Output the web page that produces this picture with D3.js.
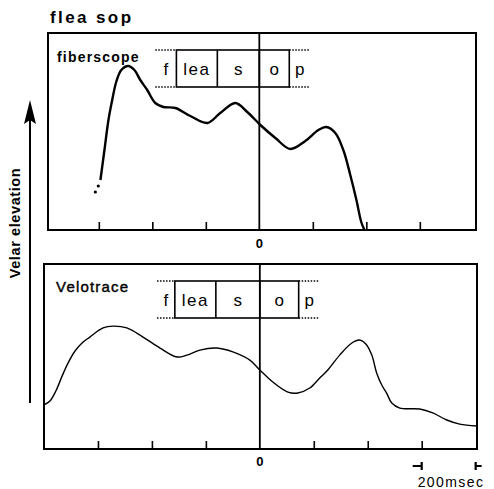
<!DOCTYPE html>
<html>
<head>
<meta charset="utf-8">
<script src="https://cdn.jsdelivr.net/npm/d3@7"></script>
<style>
  body { margin: 0; background: #fff; }
  svg { display: block; font-family: "Liberation Sans", Arial, sans-serif; }
</style>
</head>
<body>
<svg id="chart" width="494" height="489"></svg>
<script>
// time in msec relative to the s/o boundary, elevation in arbitrary units (0-100)
const fiberTime = [-594, -579, -564, -550, -535, -516, -490, -467, -445, -419, -389, -359, -314, -258, -194, -146, -90, -45, 4, 60, 116, 172, 221, 250, 284, 314, 340, 363, 381, 393];
const fiberValue = [25, 40, 55, 65, 74, 80, 82, 80, 75, 70, 63.5, 61.5, 61, 57, 53.5, 58.5, 63.5, 59, 52.5, 46, 40.5, 44.5, 50, 51.5, 48.5, 40, 27.5, 15, 4, 0];
const fiberDotTime = [-613, -602];
const fiberDotValue = [19, 22];

const veloTime = [-800, -778, -756, -733, -711, -685, -659, -630, -581, -544, -493, -433, -370, -307, -270, -222, -159, -100, -37, 0, 48, 104, 141, 185, 222, 252, 296, 341, 370, 393, 415, 433, 452, 470, 489, 519, 593, 641, 693, 741, 804];
const veloValue = [23.7, 25.8, 31.2, 39.2, 46.2, 52.7, 57, 60.2, 65.1, 66.1, 65.1, 60.2, 54.3, 49.5, 50.5, 53.2, 54.3, 52.2, 47.8, 42.5, 36, 30.6, 30.1, 32.8, 38.2, 42.5, 50.5, 57, 58.6, 56.5, 50.5, 40.9, 34.4, 30.1, 24.7, 22, 21.5, 19.4, 15.6, 13.4, 12.4];

// segment boundaries (msec): dotted start, box edges, dotted end
const phones = ["f", "lea", "s", "o", "p"];
const fiberBounds = [-389, -310, -157, 0, 112, 190];
const veloBounds = [-381, -315, -163, 0, 144, 222];

const tickTimes = [-600, -400, -200, 0, 200, 400, 600];
const scaleBarTimes = [600, 800];

const svg = d3.select("#chart");

const panels = [
  { name: "fiberscope", time: fiberTime, value: fiberValue, bounds: fiberBounds,
    xDomain: [-790, 810], xRange: [48, 476], yDomain: [0, 98.5], yRange: [230, 33],
    stroke: 2.4, labelY: 62, zeroY: 248 },
  { name: "Velotrace", time: veloTime, value: veloValue, bounds: veloBounds,
    xDomain: [-800, 805], xRange: [44, 477], yDomain: [0, 99.5], yRange: [449, 264],
    stroke: 1.4, labelY: 292, zeroY: 466 }
];

panels.forEach((p, pi) => {
  const x = d3.scaleLinear().domain(p.xDomain).range(p.xRange);
  const y = d3.scaleLinear().domain(p.yDomain).range(p.yRange);
  const g = svg.append("g");
  const top = p.yRange[1], bottom = p.yRange[0];

  // frame
  g.append("rect")
    .attr("x", p.xRange[0]).attr("y", top)
    .attr("width", p.xRange[1] - p.xRange[0]).attr("height", bottom - top)
    .attr("fill", "none").attr("stroke", "#000").attr("stroke-width", 2);

  // ticks pointing up, only 0 labelled
  const axis = d3.axisBottom(x)
    .tickValues(tickTimes.filter((t) => t !== 0))
    .tickSizeInner(-8).tickSizeOuter(0)
    .tickFormat("");
  g.append("g")
    .attr("transform", `translate(0,${bottom})`)
    .call(axis)
    .call((a) => a.select(".domain").remove())
    .call((a) => a.selectAll("line").attr("stroke-width", 1.6));

  // zero line across the panel
  g.append("line")
    .attr("x1", x(0)).attr("x2", x(0))
    .attr("y1", top).attr("y2", bottom)
    .attr("stroke", "#000").attr("stroke-width", 1.8);
  g.append("text")
    .attr("x", x(0)).attr("y", p.zeroY)
    .attr("text-anchor", "middle")
    .attr("font-size", 13).attr("font-weight", "bold")
    .text("0");

  // panel name
  g.append("text")
    .attr("x", p.xRange[0] + 9 + pi * 3).attr("y", p.labelY)
    .attr("font-size", pi === 0 ? 14 : 15).attr("letter-spacing", 1.2)
    .attr("font-weight", pi === 0 ? "bold" : "normal")
    .attr("stroke", "#000").attr("stroke-width", pi === 0 ? 0 : 0.4)
    .text(p.name);

  // segment boxes
  const boxTop = top + 17, boxBottom = top + 54;
  const b = p.bounds;
  g.append("rect")
    .attr("x", x(b[1])).attr("y", boxTop)
    .attr("width", x(b[4]) - x(b[1])).attr("height", boxBottom - boxTop)
    .attr("fill", "none").attr("stroke", "#000").attr("stroke-width", 1.6);
  [b[2], b[3]].forEach((t) => {
    g.append("line")
      .attr("x1", x(t)).attr("x2", x(t))
      .attr("y1", boxTop).attr("y2", boxBottom)
      .attr("stroke", "#000").attr("stroke-width", 1.6);
  });
  [[b[0], b[1]], [b[4], b[5]]].forEach(([t0, t1]) => {
    [boxTop, boxBottom].forEach((yy) => {
      g.append("line")
        .attr("x1", x(t0)).attr("x2", x(t1))
        .attr("y1", yy).attr("y2", yy)
        .attr("stroke", "#000").attr("stroke-width", 1.5)
        .attr("stroke-dasharray", "1.5,1.5");
    });
  });
  g.selectAll(".phone")
    .data(phones)
    .enter()
    .append("text")
    .attr("class", "phone")
    .attr("x", (d, i) => (x(b[i]) + x(b[i + 1])) / 2)
    .attr("y", (boxTop + boxBottom) / 2 + 6)
    .attr("text-anchor", "middle")
    .attr("font-size", 17).attr("letter-spacing", (d) => d.length > 1 ? 1.5 : 0)
    .text((d) => d);

  // trace
  const line = d3.line()
    .x((d) => x(d[0]))
    .y((d) => y(d[1]))
    .curve(d3.curveCatmullRom.alpha(0.5));
  g.append("path")
    .datum(d3.zip(p.time, p.value))
    .attr("d", line)
    .attr("fill", "none").attr("stroke", "#000")
    .attr("stroke-width", p.stroke).attr("stroke-linejoin", "round");

  if (pi === 0) {
    g.selectAll(".dot")
      .data(d3.zip(fiberDotTime, fiberDotValue))
      .enter()
      .append("circle")
      .attr("cx", (d) => x(d[0])).attr("cy", (d) => y(d[1]))
      .attr("r", 1.6).attr("fill", "#000");
  }

  if (pi === 1) {
    // 200 msec scale bar
    const sy = 466;
    const [s0, s1] = scaleBarTimes.map(x);
    g.append("path")
      .attr("d", `M${s0 - 9},${sy}H${s0}M${s0},${sy - 4}V${sy + 4}M${s1},${sy - 4}V${sy + 4}M${s1},${sy}H${s1 + 6}`)
      .attr("stroke", "#000").attr("stroke-width", 2.2).attr("fill", "none");
    g.append("text")
      .attr("x", s0 - 4).attr("y", 487)
      .attr("font-size", 14).attr("letter-spacing", 1.4)
      .text("200msec");
  }
});

// title
svg.append("text")
  .attr("x", 50).attr("y", 23)
  .attr("font-size", 17).attr("font-weight", "bold").attr("letter-spacing", 2.4)
  .text("flea sop");

// y label with arrow
svg.append("line")
  .attr("x1", 30).attr("x2", 30)
  .attr("y1", 403).attr("y2", 110)
  .attr("stroke", "#000").attr("stroke-width", 2);
svg.append("path")
  .attr("d", "M30,100L24,124L30,120L36,124Z")
  .attr("fill", "#000");
svg.append("text")
  .attr("transform", "translate(20,223) rotate(-90)")
  .attr("text-anchor", "middle")
  .attr("font-size", 14.5).attr("font-weight", "bold").attr("letter-spacing", 0.6)
  .text("Velar elevation");
</script>
</body>
</html>
